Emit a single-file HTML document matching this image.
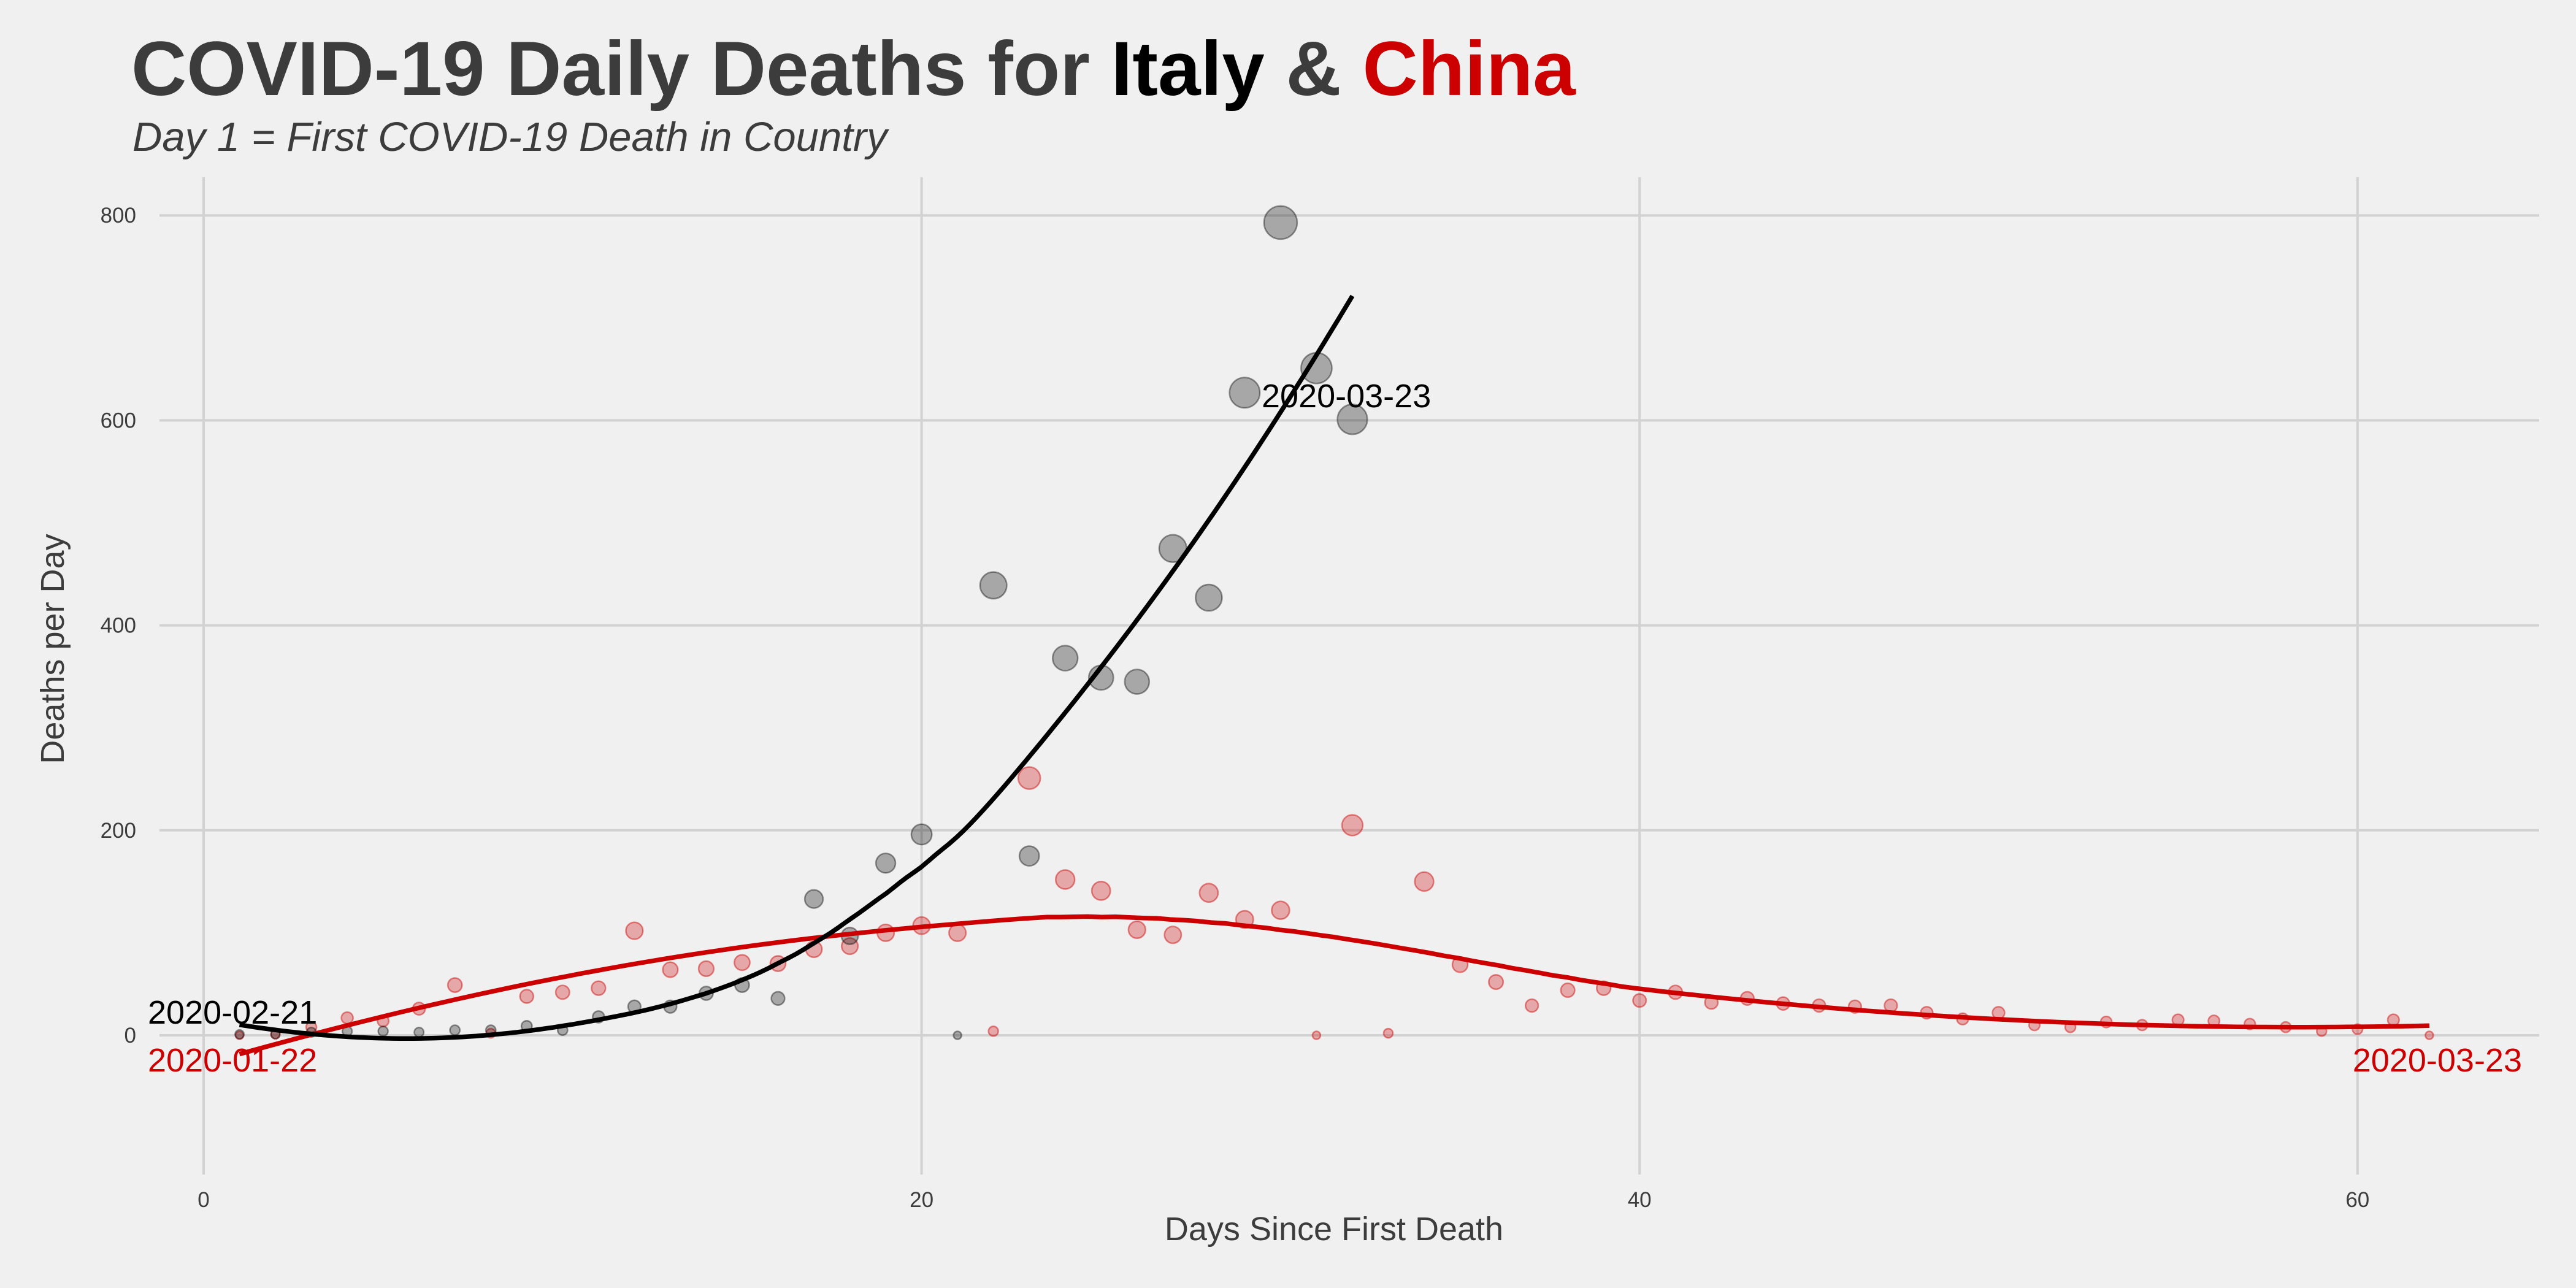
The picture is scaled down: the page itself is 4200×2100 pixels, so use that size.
<!DOCTYPE html>
<html>
<head>
<meta charset="utf-8">
<style>
  html,body{margin:0;padding:0;background:#f0f0f0;}
  body{width:4200px;height:2100px;overflow:hidden;}
  svg{display:block;}
  text{font-family:"Liberation Sans",Arial,sans-serif;}
</style>
</head>
<body>
<svg id="chart" width="4200" height="2100" viewBox="0 0 4200 2100" xmlns="http://www.w3.org/2000/svg">
  <rect x="0" y="0" width="4200" height="2100" fill="#f0f0f0"/>
  <text x="214" y="155" font-size="125" font-weight="bold" fill="#3c3c3c">COVID-19 Daily Deaths for <tspan fill="#000000">Italy</tspan> &amp; <tspan fill="#cc0000">China</tspan></text>
  <text x="216" y="246" font-size="67" font-style="italic" fill="#3c3c3c">Day 1 = First COVID-19 Death in Country</text>
  <g id="grid"></g>
  <g id="axes"></g>
  <g id="points"></g>
  <g id="lines"></g>
  <g id="labels"></g>
  <text x="2175" y="2022" font-size="54" fill="#3c3c3c" text-anchor="middle">Days Since First Death</text>
  <text x="0" y="0" font-size="54" fill="#3c3c3c" text-anchor="middle" transform="translate(104,1058) rotate(-90)">Deaths per Day</text>
</svg>
<script>
const xTicks = [0, 20, 40, 60];
const yTicks = [0, 200, 400, 600, 800];
const italyDays = [1,2,3,4,5,6,7,8,9,10,11,12,13,14,15,16,17,18,19,20,21,22,23,24,25,26,27,28,29,30,31,32];
const italyDeaths = [1,1,3,4,4,3,5,5,9,5,18,28,28,41,49,36,133,97,168,196,0,439,175,368,349,345,475,427,627,793,651,601];
const chinaDays = [1,2,3,4,5,6,7,8,9,10,11,12,13,14,15,16,17,18,19,20,21,22,23,24,25,26,27,28,29,30,31,32,33,34,35,36,37,38,39,40,41,42,43,44,45,46,47,48,49,50,51,52,53,54,55,56,57,58,59,60,61,62];
const chinaDeaths = [0,1,8,17,14,26,49,2,38,42,46,102,64,65,71,70,84,87,100,107,100,4,251,152,141,103,98,139,113,122,0,205,2,150,69,52,29,44,46,34,42,32,36,31,29,28,29,22,16,22,10,8,13,10,15,14,11,8,4,6,15,0];

const NS = 'http://www.w3.org/2000/svg';
const X = d => 332 + 58.53 * d;
const Y = v => 1688 - 1.671 * v;
const PL = 260, PR = 4140, PT = 289, PB = 1915;

function mk(tag, attrs, parent) {
  const el = document.createElementNS(NS, tag);
  for (const k in attrs) el.setAttribute(k, attrs[k]);
  parent.appendChild(el);
  return el;
}
const grid = document.getElementById('grid');
const axes = document.getElementById('axes');
xTicks.forEach(t => {
  const l = mk('line', {x1: X(t), x2: X(t), y1: PT, y2: PB, stroke: '#d2d2d2', 'stroke-width': 4}, grid);
  
  
  const tx = mk('text', {x: X(t), y: 1968, 'font-size': 35, fill: '#3c3c3c', 'text-anchor': 'middle'}, axes);
  tx.textContent = t;
  
  
});
yTicks.forEach(t => {
  const l = mk('line', {x1: PL, x2: PR, y1: Y(t), y2: Y(t), stroke: '#d2d2d2', 'stroke-width': 4}, grid);
  
  
  const tx = mk('text', {x: 222, y: Y(t) + 12, 'font-size': 35, fill: '#3c3c3c', 'text-anchor': 'end'}, axes);
  tx.textContent = t;
  
  
});

const maxV = Math.max(...italyDeaths, ...chinaDeaths);
const rad = v => 6.5 + 20.5 * Math.sqrt(Math.max(v, 0) / maxV);
const pts = document.getElementById('points');
chinaDays.forEach((d, i) => {
  const c = mk('circle', {cx: X(d), cy: Y(chinaDeaths[i]), r: rad(chinaDeaths[i]), fill: 'rgba(204,0,0,0.3)', stroke: 'rgba(204,0,0,0.45)', 'stroke-width': 2.5}, pts);
  
  
});
italyDays.forEach((d, i) => {
  const c = mk('circle', {cx: X(d), cy: Y(italyDeaths[i]), r: rad(italyDeaths[i]), fill: 'rgba(0,0,0,0.3)', stroke: 'rgba(0,0,0,0.4)', 'stroke-width': 2.5}, pts);
  
  
});

function loess(xs, ys, x0, span) {
  const n = xs.length, q = Math.floor(span * n);
  const dists = xs.map(x => Math.abs(x - x0)).sort((a, b) => a - b);
  let h = dists[Math.min(q, n) - 1];
  h = Math.max(h, 1e-9) * 1.0000001;
  let S = [[0,0,0],[0,0,0],[0,0,0]], B = [0,0,0];
  for (let i = 0; i < n; i++) {
    const u = Math.abs(xs[i] - x0) / h;
    if (u >= 1) continue;
    const w = Math.pow(1 - u * u * u, 3);
    const dx = xs[i] - x0, f = [1, dx, dx * dx];
    for (let a = 0; a < 3; a++) { B[a] += w * f[a] * ys[i]; for (let b = 0; b < 3; b++) S[a][b] += w * f[a] * f[b]; }
  }
  const M = S.map((r, i) => [...r, B[i]]);
  for (let c = 0; c < 3; c++) {
    let p = c; for (let r = c + 1; r < 3; r++) if (Math.abs(M[r][c]) > Math.abs(M[p][c])) p = r;
    [M[c], M[p]] = [M[p], M[c]];
    for (let r = 0; r < 3; r++) if (r !== c) { const f = M[r][c] / M[c][c]; for (let k = c; k < 4; k++) M[r][k] -= f * M[c][k]; }
  }
  return M[0][3] / M[0][0];
}
function trend(xs, ys, color, name) {
  const lo = Math.min(...xs), hi = Math.max(...xs);
  let d = '';
  for (let k = 0; k <= 160; k++) {
    const x = lo + (hi - lo) * k / 160;
    const y = loess(xs, ys, x, 0.75);
    d += (k ? 'L' : 'M') + X(x).toFixed(1) + ',' + Y(y).toFixed(1);
  }
  const p = mk('path', {d: d, fill: 'none', stroke: color, 'stroke-width': 7.5, 'stroke-linejoin': 'round'}, document.getElementById('lines'));
  
  
}
trend(chinaDays, chinaDeaths, '#cc0000', 'china-trend-line');
trend(italyDays, italyDeaths, '#000000', 'italy-trend-line');

const labs = document.getElementById('labels');
function lab(txt, x, y, color, anchor, name) {
  const t = mk('text', {x: x, y: y, 'font-size': 54, fill: color, 'text-anchor': anchor}, labs);
  t.textContent = txt;
  
  
}
lab('2020-02-21', 241, 1669, '#000000', 'start', 'italy-start-label');
lab('2020-01-22', 241, 1747, '#cc0000', 'start', 'china-start-label');
lab('2020-03-23', 2057, 664, '#000000', 'start', 'italy-end-label');
lab('2020-03-23', 4112, 1747, '#cc0000', 'end', 'china-end-label');
</script>
</body>
</html>
